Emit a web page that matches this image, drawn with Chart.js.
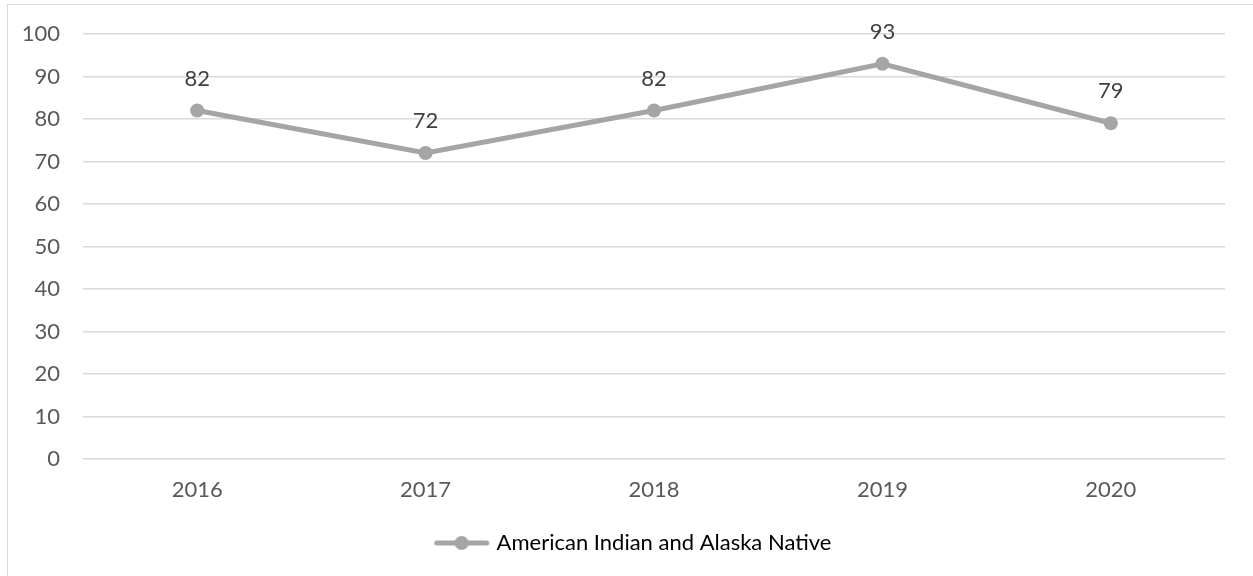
<!DOCTYPE html>
<html>
<head>
<meta charset="utf-8">
<script src="https://cdn.jsdelivr.net/npm/chart.js@4.4.1/dist/chart.umd.min.js"></script>
<style>
  html, body { margin: 0; padding: 0; background: #fff; }
  #wrap { position: relative; width: 1253px; height: 576px; overflow: hidden; }
  #frame { position: absolute; left: 7px; top: 4px; width: 1300px; height: 600px;
           border-top: 1px solid #d9d9d9; border-left: 1px solid #d9d9d9; }
  canvas { position: absolute; left: 0; top: 0; }
</style>
</head>
<body>
<div id="wrap">
  <div id="frame"></div>
  <canvas id="chart" width="1253" height="576"></canvas>
</div>
<script>
// chart data
const years = ["2016", "2017", "2018", "2019", "2020"];
const aianValues = [82, 72, 82, 93, 79];
const seriesName = "American Indian and Alaska Native";
const yTicks = [0, 10, 20, 30, 40, 50, 60, 70, 80, 90, 100];

const lineColor = "#A5A5A5";
const textColor = "#595959";
const fontFamily = "Lato, 'Open Sans', sans-serif";
const fontSize = 22;

// legend sample: line with a dot in the middle, like the Excel marker
function legendSample() {
    const c = document.createElement("canvas");
    c.width = 56;
    c.height = 16;
    const g = c.getContext("2d");
    g.strokeStyle = lineColor;
    g.lineWidth = 5;
    g.lineCap = "round";
    g.beginPath();
    g.moveTo(3, 8);
    g.lineTo(53, 8);
    g.stroke();
    g.fillStyle = lineColor;
    g.beginPath();
    g.arc(28, 8, 7, 0, Math.PI * 2);
    g.fill();
    return c;
}

// value labels above each point
const valueLabels = {
    id: "valueLabels",
    afterDatasetsDraw(chart) {
        const ctx = chart.ctx;
        const meta = chart.getDatasetMeta(0);
        ctx.save();
        ctx.font = fontSize + "px " + fontFamily;
        ctx.fillStyle = "#404040";
        ctx.textAlign = "center";
        ctx.textBaseline = "middle";
        meta.data.forEach((pt, i) => {
            ctx.fillText(String(aianValues[i]), pt.x, pt.y - 32);
        });
        ctx.restore();
    }
};

// nudge legend a bit to the right, as in the original
const legendShift = {
    id: "legendShift",
    afterLayout(chart) {
        if (chart.legend) chart.legend.left += 44;
    }
};

const sample = legendSample();

new Chart(document.getElementById("chart"), {
    type: "line",
    data: {
        labels: years,
        datasets: [{
            label: seriesName,
            data: aianValues,
            borderColor: lineColor,
            backgroundColor: lineColor,
            borderWidth: 5,
            pointRadius: 7,
            pointHoverRadius: 7,
            pointBackgroundColor: lineColor,
            pointBorderWidth: 0,
            pointStyle: "circle",
            tension: 0
        }]
    },
    options: {
        responsive: false,
        animation: false,
        layout: { padding: { top: 34, right: 28, bottom: 12, left: 0 } },
        plugins: {
            tooltip: { enabled: false },
            legend: {
                position: "bottom",
                labels: {
                    usePointStyle: true,
                    pointStyleWidth: 48,
                    padding: 10,
                    color: textColor,
                    font: { family: fontFamily, size: fontSize },
                    generateLabels: () => [{
                        text: seriesName,
                        pointStyle: sample,
                        fillStyle: lineColor,
                        strokeStyle: lineColor,
                        lineWidth: 0,
                        datasetIndex: 0
                    }]
                }
            }
        },
        scales: {
            x: {
                offset: true,
                grid: { display: false, drawTicks: false },
                border: { display: false },
                ticks: { color: textColor, padding: 18, font: { family: fontFamily, size: fontSize } },
                afterFit(scale) { scale.height = 63; }
            },
            y: {
                min: 0,
                max: 100,
                afterBuildTicks(scale) { scale.ticks = yTicks.map(v => ({ value: v })); },
                grid: { color: "#d9d9d9", lineWidth: 1.5, drawTicks: false },
                border: { display: false },
                ticks: { color: textColor, padding: 23, font: { family: fontFamily, size: fontSize } },
                afterFit(scale) {
                    scale.width = 83;
                    scale.paddingTop = 0;
                    scale.paddingBottom = 0;
                }
            }
        }
    },
    plugins: [valueLabels, legendShift]
});
</script>
</body>
</html>
